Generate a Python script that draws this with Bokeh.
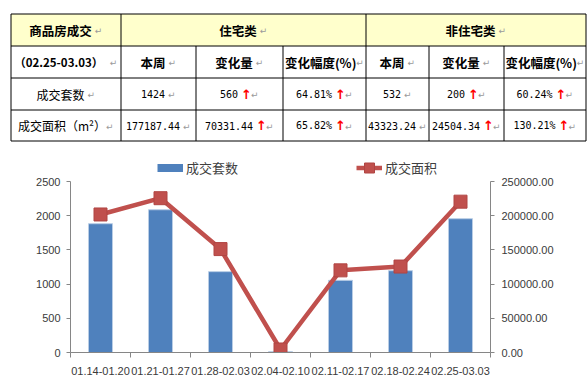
from bokeh.plotting import figure
from bokeh.models import (Range1d, LinearAxis, FixedTicker, NumeralTickFormatter,
                          Legend, LegendItem, ColumnDataSource)
from bokeh.layouts import column, row
from bokeh.embed import file_html
from bokeh.resources import INLINE
from bokeh.core.properties import value

# ---------------- data ----------------
weeks = ["01.14-01.20", "01.21-01.27", "01.28-02.03", "02.04-02.10",
         "02.11-02.17", "02.18-02.24", "02.25-03.03"]
units = [1883, 2087, 1182, 12, 1055, 1196, 1956]            # 成交套数
area = [201800, 225600, 151200, 4400, 120100, 125675, 220511]  # 成交面积
left_ticks = [0, 500, 1000, 1500, 2000, 2500]
right_ticks = [0, 50000, 100000, 150000, 200000, 250000]

table_title = "商品房成交"
period = "（02.25-03.03）"
groups = ["住宅类", "非住宅类"]
sub_headers = ["本周", "变化量", "变化幅度(%)"]
row_labels = ["成交套数", "成交面积（m²）"]
res_units = ["1424", "560", "64.81%"]
res_area = ["177187.44", "70331.44", "65.82%"]
non_units = ["532", "200", "60.24%"]
non_area = ["43323.24", "24504.34", "130.21%"]

CJK = "Noto Sans CJK SC"
MONO = "DejaVu Sans Mono"
W = 588
TABLE_H = 148
CHART_H = 230

# ---------------- table ----------------
t = figure(width=W, height=TABLE_H, x_range=Range1d(0, W), y_range=Range1d(TABLE_H, 0),
           output_backend="svg", toolbar_location=None, min_border=0,
           x_axis_location=None, y_axis_location=None)
t.xgrid.visible = False
t.ygrid.visible = False
t.outline_line_color = None
t.title.visible = False

cols = [10.5, 120.5, 195.5, 282.5, 365.5, 428.5, 503.5, 585.5]
rows = [13.5, 45.5, 77.5, 109.5, 140.5]

t.quad(left=cols[0], right=cols[-1], top=rows[0], bottom=rows[1],
       fill_color="#FFFFCC", line_color=None)
t.segment(x0=[cols[0]] * len(rows), x1=[cols[-1]] * len(rows), y0=rows, y1=rows,
          line_color="black", line_width=1)
full_v = [cols[0], cols[1], cols[4], cols[7]]
t.segment(x0=full_v, x1=full_v, y0=[rows[0]] * 4, y1=[rows[-1]] * 4,
          line_color="black", line_width=1)
part_v = [cols[2], cols[3], cols[5], cols[6]]
t.segment(x0=part_v, x1=part_v, y0=[rows[1]] * 4, y1=[rows[-1]] * 4,
          line_color="black", line_width=1)

TX = dict(x=[], y=[], text=[], font=[], size=[], style=[], color=[])


def put(x, y, s, font, size, style, color):
    TX["x"].append(x); TX["y"].append(y); TX["text"].append(s)
    TX["font"].append(font); TX["size"].append(f"{size}px")
    TX["style"].append(style); TX["color"].append(color)


def text_w(s, size, mono=False):
    if mono:
        return len(s) * size * 0.602
    w = 0
    for ch in s:
        if ord(ch) >= 0x2E80:
            w += size
        elif ch in "%":
            w += size * 0.8
        elif ch in "()":
            w += size * 0.33
        else:
            w += size * 0.55
    return w


def cell(x0, x1, y, s, font=CJK, size=12, style="normal", arrow=False, mono=False):
    w = text_w(s, size, mono)
    aw, g1 = (7, 3) if arrow else (0, 0)
    g2, rw = 3, 8
    total = w + g1 + aw + g2 + rw
    sx = (x0 + x1) / 2 - total / 2
    put(sx, y, s, font, size, style, "black")
    if arrow:
        put(sx + w + g1, y, "↑", "DejaVu Sans", 13, "bold", "#FF0000")
    put(sx + w + g1 + aw + g2, y + 1, "↵", "DejaVu Sans", 9, "normal", "#9A9A9A")


ymid = [(rows[i] + rows[i + 1]) / 2 for i in range(4)]
cell(cols[0], cols[1], ymid[0], table_title, size=12.5, style="bold")
cell(cols[1], cols[4], ymid[0], groups[0], size=12.5, style="bold")
cell(cols[4], cols[7], ymid[0], groups[1], size=12.5, style="bold")
cell(cols[0], cols[1], ymid[1], period, size=11.5, style="bold")
for k, h in enumerate(sub_headers):
    cell(cols[1 + k], cols[2 + k], ymid[1], h, size=12.5, style="bold")
    cell(cols[4 + k], cols[5 + k], ymid[1], h, size=12.5, style="bold")
cell(cols[0], cols[1], ymid[2], row_labels[0], size=12)
cell(cols[0], cols[1], ymid[3], row_labels[1], size=12)
for k in range(3):
    arr = k > 0
    cell(cols[1 + k], cols[2 + k], ymid[2], res_units[k], font=MONO, size=10, arrow=arr, mono=True)
    cell(cols[1 + k], cols[2 + k], ymid[3], res_area[k], font=MONO, size=10, arrow=arr, mono=True)
    cell(cols[4 + k], cols[5 + k], ymid[2], non_units[k], font=MONO, size=10, arrow=arr, mono=True)
    cell(cols[4 + k], cols[5 + k], ymid[3], non_area[k], font=MONO, size=10, arrow=arr, mono=True)

t.text(x="x", y="y", text="text", source=ColumnDataSource(TX),
       text_font="font", text_font_size="size", text_font_style="style",
       text_color="color", text_align="left", text_baseline="middle")

# ---------------- chart ----------------
# frame spans from the figure top down to the x axis; the axes are bounded to 0..max tick,
# the extra room above the top tick holds the legend
FRAME_H = 204          # px from figure top to x axis
TOP_GAP = 33           # px between frame top and the top tick
scale = FRAME_H / (FRAME_H - TOP_GAP)

xs = [i + 1 for i in range(len(weeks))]
p = figure(width=W, height=CHART_H, x_range=Range1d(0.5, len(weeks) + 0.5),
           y_range=Range1d(0, left_ticks[-1] * scale), output_backend="svg",
           toolbar_location=None,
           min_border_left=70, min_border_right=98, min_border_top=0,
           min_border_bottom=CHART_H - FRAME_H)
p.title.visible = False
p.extra_y_ranges = {"area": Range1d(0, right_ticks[-1] * scale)}
p.xgrid.visible = False
p.ygrid.visible = False
p.outline_line_color = None

AX = "#868686"
LBL = "#3a3a3a"
FONT = "Liberation Sans"

p.xaxis.ticker = FixedTicker(ticks=xs, minor_ticks=[x - 0.5 for x in xs] + [xs[-1] + 0.5])
p.xaxis.major_label_overrides = {x: w for x, w in zip(xs, weeks)}
p.xaxis.major_tick_out = 0
p.xaxis.major_tick_in = 0
p.xaxis.minor_tick_out = 5
p.xaxis.minor_tick_in = 0
p.xaxis.minor_tick_line_color = AX
p.xaxis.major_label_standoff = 9

p.yaxis.ticker = FixedTicker(ticks=left_ticks)
p.yaxis.bounds = (left_ticks[0], left_ticks[-1])
p.yaxis.minor_tick_line_color = None
p.yaxis.major_tick_out = 4
p.yaxis.major_tick_in = 0
p.yaxis.major_label_standoff = 6

ry = LinearAxis(y_range_name="area", ticker=FixedTicker(ticks=right_ticks),
                formatter=NumeralTickFormatter(format="0.00"),
                bounds=(right_ticks[0], right_ticks[-1]))
ry.minor_tick_line_color = None
ry.major_tick_out = 4
ry.major_tick_in = 0
ry.major_label_standoff = 7
p.add_layout(ry, "right")

for ax in p.axis:
    ax.axis_line_color = AX
    ax.major_tick_line_color = AX
    ax.major_label_text_font = FONT
    ax.major_label_text_font_size = "11px"
    ax.major_label_text_color = LBL
p.xaxis.major_tick_line_color = None

bars = p.vbar(x=xs, top=units, width=0.4, fill_color="#4F81BD",
              line_color="#B9CDE5", line_width=1)
ln = p.line(x=xs, y=area, y_range_name="area", line_color="#C0504D", line_width=4.5)
mk = p.scatter(x=xs, y=area, y_range_name="area", marker="square", size=13,
               fill_color="#C0504D", line_color="#B04543")
# legend proxy for the bar series: a one-point line (draws nothing on the plot)
# whose legend swatch is the thin blue bar of the reference
proxy = p.line(x=xs[:1], y=units[:1], line_color="#4F81BD", line_width=8)

leg = Legend(items=[LegendItem(label=value("成交套数"), renderers=[proxy]),
                    LegendItem(label=value("成交面积"), renderers=[ln, mk])],
             orientation="horizontal", location=(87, 172),
             glyph_width=26, glyph_height=25, label_height=25, spacing=118,
             border_line_color=None, background_fill_alpha=0, padding=0, margin=0,
             label_text_font=CJK, label_text_font_size="13px",
             label_text_color="#404040", label_standoff=3)
p.add_layout(leg, "center")

layout = column(row(t), row(p), spacing=0)
open("out.html", "w").write(file_html(layout, INLINE))
